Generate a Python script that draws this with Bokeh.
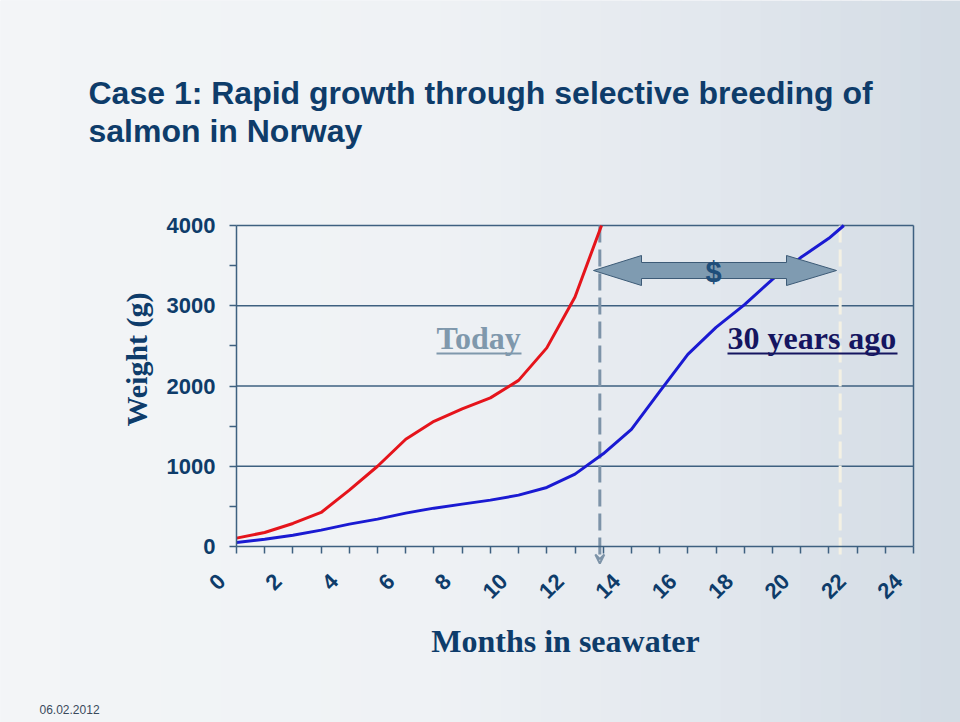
import math
from bokeh.plotting import figure
from bokeh.models import Range1d, FixedTicker, Label, Arrow, VeeHead, LinearAxis, BoxAnnotation
from bokeh.embed import file_html
from bokeh.resources import INLINE

# ---------------- data ----------------
# weight (g) by month in seawater; last point is where each curve reaches the 4000 g top
today_months = [0, 1, 2, 3, 4, 5, 6, 7, 8, 9, 10, 11, 12, 12.94]
today_weight = [104, 175, 287, 424, 703, 1000, 1336, 1560, 1715, 1852, 2070, 2475, 3110, 4000]

past_months = [0, 1, 2, 3, 4, 5, 6, 7, 8, 9, 10, 11, 12, 13, 14, 15, 16, 17, 18, 19, 20, 21, 21.53]
past_weight = [50, 90, 141, 204, 279, 341, 416, 478, 528, 578, 640, 736, 902,
               1155, 1460, 1930, 2395, 2730, 3010, 3330, 3600, 3840, 4000]

y_ticks = [0, 1000, 2000, 3000, 4000]
y_minor_ticks = [500, 1500, 2500, 3500]
x_tick_months = list(range(0, 25))
x_label_months = [0, 2, 4, 6, 8, 10, 12, 14, 16, 18, 20, 22, 24]
x_tick_labels = ["0", "2", "4", "6", "8", "10", "12", "14", "16", "18", "20", "22", "24"]

today_harvest_month = 12.88
past_harvest_month = 21.4

# ---------------- layout / style ----------------
W, H = 960, 722
FL, FR, FT, FB = 236, 913, 225, 546      # chart area in pixels
XMAX, YMAX = 24, 4000
AX = "#3E6080"
NAVY = "#0E3C6A"
RED = "#E5141B"
BLUE = "#1A1AD2"
LABEL_SHIFT = 0.53                         # tick labels sit left of their tick (months)


def px2x(px):
    return (px - FL) * XMAX / (FR - FL)


def py2y(py):
    return (FB - py) * YMAX / (FB - FT)


def mid(py_baseline, size):
    # Label with text_baseline="middle": centre sits ~0.34em above the baseline
    return py2y(py_baseline - 0.34 * size)


p = figure(width=W, height=H,
           x_range=Range1d(px2x(0), px2x(W)), y_range=Range1d(py2y(H), py2y(0)),
           output_backend="svg", toolbar_location=None,
           x_axis_location=None, y_axis_location=None,
           min_border=0, outline_line_color=None,
           background_fill_color="#EAEEF2", border_fill_color="#EAEEF2")
p.xgrid.visible = False
p.ygrid.visible = False

# background gradient (light left -> blue-grey right)
stops = [(0, (0xF3, 0xF5, 0xF7)), (420, (0xEF, 0xF2, 0xF5)), (700, (0xE3, 0xE8, 0xEE)), (960, (0xD2, 0xDB, 0xE4))]
nstrip = 48
for i in range(nstrip):
    x0 = i * W / nstrip
    xm = x0 + W / nstrip / 2
    for (a, ca), (b, cb) in zip(stops[:-1], stops[1:]):
        if a <= xm <= b:
            t = (xm - a) / (b - a)
            c = tuple(int(round(ca[k] + (cb[k] - ca[k]) * t)) for k in range(3))
            break
    p.add_layout(BoxAnnotation(left=px2x(x0), right=px2x(x0 + W / nstrip + 1),
                               fill_color="#%02X%02X%02X" % c, fill_alpha=1,
                               line_color=None, level="image"))

# horizontal grid lines (incl. top border) and right border of the chart area
p.segment(x0=[0] * 4, y0=y_ticks[1:], x1=[XMAX] * 4, y1=y_ticks[1:],
          line_color=AX, line_width=1.5, level="underlay")
p.segment(x0=[XMAX], y0=[0], x1=[XMAX], y1=[YMAX],
          line_color=AX, line_width=1.5, level="underlay")


def style_axis(ax):
    ax.axis_line_color = AX
    ax.axis_line_width = 1.5
    ax.major_tick_line_color = AX
    ax.minor_tick_line_color = AX
    ax.major_tick_line_width = 1.5
    ax.minor_tick_line_width = 1.5
    ax.major_tick_out = 7
    ax.major_tick_in = 0
    ax.minor_tick_out = 7
    ax.minor_tick_in = 0
    ax.major_label_text_font = "Liberation Sans"
    ax.major_label_text_font_style = "bold"
    ax.major_label_text_font_size = "22px"
    ax.major_label_text_color = NAVY


# y axis
ya = LinearAxis(fixed_location=0, bounds=(0, YMAX),
                ticker=FixedTicker(ticks=y_ticks, minor_ticks=y_minor_ticks))
style_axis(ya)
ya.major_label_standoff = 14
p.add_layout(ya, "left")

# x axis: line and monthly tick marks (no labels)
xa = LinearAxis(fixed_location=0, bounds=(0, XMAX),
                ticker=FixedTicker(ticks=[], minor_ticks=x_tick_months))
style_axis(xa)
p.add_layout(xa, "below")

# x axis: rotated labels
label_pos = [m - LABEL_SHIFT for m in x_label_months]
xl = LinearAxis(fixed_location=0, ticker=FixedTicker(ticks=label_pos, minor_ticks=[]))
style_axis(xl)
xl.axis_line_color = None
xl.major_tick_line_color = None
xl.minor_tick_line_color = None
xl.major_label_overrides = {pos: t for pos, t in zip(label_pos, x_tick_labels)}
xl.major_label_orientation = math.pi / 4
xl.major_label_standoff = 24
p.add_layout(xl, "below")

# dashed harvest markers
p.add_layout(Arrow(x_start=today_harvest_month, y_start=YMAX,
                   x_end=today_harvest_month, y_end=py2y(563),
                   line_color="#7D93A8", line_width=3, line_dash="17 7",
                   end=VeeHead(size=9, line_color="#7D93A8", line_width=2, fill_alpha=0),
                   level="underlay"))
p.add_layout(Arrow(x_start=past_harvest_month, y_start=YMAX,
                   x_end=past_harvest_month, y_end=py2y(557),
                   line_color="#F4F1E4", line_width=3, line_dash="17 7",
                   end=None, level="underlay"))

# growth curves
p.line(today_months, today_weight, line_color=RED, line_width=3)
p.line(past_months, past_weight, line_color=BLUE, line_width=3)

# block double arrow
tipL, baseL, baseR, tipR = px2x(593), px2x(641), px2x(786), px2x(836)
yc, sh_t, sh_b, hd_t, hd_b = py2y(270), py2y(262), py2y(278), py2y(255), py2y(285)
p.patch([tipL, baseL, baseL, baseR, baseR, tipR, baseR, baseR, baseL, baseL],
        [yc, hd_t, sh_t, sh_t, hd_t, yc, hd_b, sh_b, sh_b, hd_b],
        fill_color="#7F9BB1", line_color="#3D5B77", line_width=1)

p.add_layout(Label(x=px2x(713), y=py2y(271), text="$", text_align="center",
                   text_baseline="middle", text_font="Liberation Sans",
                   text_font_style="bold", text_font_size="29px", text_color="#1F4E7A"))

# curve labels with underline
p.add_layout(Label(x=px2x(436), y=mid(348, 32), text="Today", text_align="left",
                   text_baseline="middle", text_font="Liberation Serif",
                   text_font_style="bold", text_font_size="32px", text_color="#7F98AC"))
p.line([px2x(436), px2x(521)], [py2y(353), py2y(353)], line_color="#7F98AC", line_width=2)
p.add_layout(Label(x=px2x(727), y=mid(348, 32), text="30 years ago", text_align="left",
                   text_baseline="middle", text_font="Liberation Serif",
                   text_font_style="bold", text_font_size="32px", text_color="#151560"))
p.line([px2x(727), px2x(897)], [py2y(353), py2y(353)], line_color="#151560", line_width=2)

# axis titles
p.add_layout(Label(x=px2x(136), y=py2y(359), text="Weight (g)", angle=math.pi / 2,
                   text_align="center", text_baseline="middle",
                   text_font="Liberation Serif", text_font_style="bold",
                   text_font_size="30px", text_color=NAVY))
p.add_layout(Label(x=px2x(565), y=mid(651, 32), text="Months in seawater",
                   text_align="center", text_baseline="middle",
                   text_font="Liberation Serif", text_font_style="bold",
                   text_font_size="32px", text_color=NAVY))

# slide title and date
p.add_layout(Label(x=px2x(88), y=mid(103, 32),
                   text="Case 1: Rapid growth through selective breeding of",
                   text_align="left", text_baseline="middle",
                   text_font="Liberation Sans", text_font_style="bold",
                   text_font_size="32px", text_color=NAVY))
p.add_layout(Label(x=px2x(88), y=mid(141, 32), text="salmon in Norway",
                   text_align="left", text_baseline="middle",
                   text_font="Liberation Sans", text_font_style="bold",
                   text_font_size="32px", text_color=NAVY))
p.add_layout(Label(x=px2x(39), y=mid(713, 12), text="06.02.2012",
                   text_align="left", text_baseline="middle",
                   text_font="Liberation Sans", text_font_size="12px",
                   text_color="#3A4A5C"))

open("out.html", "w").write(file_html(p, INLINE))
